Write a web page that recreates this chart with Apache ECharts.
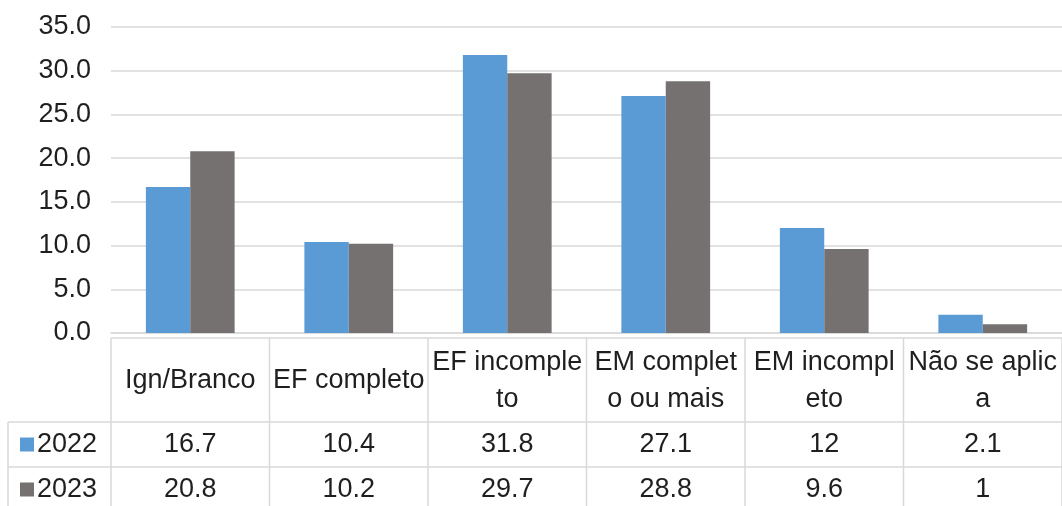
<!doctype html>
<html>
<head>
  <meta charset="utf-8">
  <title>Escolaridade</title>
  <script src="https://cdn.jsdelivr.net/npm/echarts@6/dist/echarts.min.js"></script>
  <style>
    html, body { margin: 0; padding: 0; background: #fff; }
  </style>
</head>
<body>
  <div id="main" style="width:1062px;height:506px;"></div>
  <script>
  var categories = ['Ign/Branco', 'EF completo', 'EF incomple\nto', 'EM complet\no ou mais', 'EM incompl\neto', 'Não se aplic\na'];
  var years = ['2022', '2023'];
  var values2022 = [16.7, 10.4, 31.8, 27.1, 12, 2.1];
  var values2023 = [20.8, 10.2, 29.7, 28.8, 9.6, 1];
  var colors = ['#5b9bd5', '#767171'];

  var font = 'Liberation Sans';
  var textColor = '#1f1f1f';
  var lineColor = '#d9d9d9';

  var chart = echarts.init(document.getElementById('main'));
  chart.setOption({
    animation: false,
    grid: { left: 111, right: 0, top: 27, bottom: 173 },
    xAxis: {
      type: 'category',
      data: categories,
      axisTick: { show: false },
      axisLabel: { show: false },
      axisLine: { lineStyle: { color: lineColor, width: 1.5 } }
    },
    yAxis: {
      type: 'value',
      min: 0,
      max: 35,
      interval: 5,
      axisLine: { show: false },
      axisTick: { show: false },
      axisLabel: {
        fontFamily: font,
        fontSize: 27,
        color: textColor,
        margin: 20,
        formatter: function (v) { return v.toFixed(1); }
      },
      splitLine: { lineStyle: { color: lineColor, width: 1.5 } }
    },
    series: [
      {
        name: years[0],
        type: 'bar',
        data: values2022,
        barGap: '0%',
        barCategoryGap: '44%',
        itemStyle: { color: colors[0] }
      },
      {
        name: years[1],
        type: 'bar',
        data: values2023,
        itemStyle: { color: colors[1] }
      }
    ]
  });

  // data table under the plot, aligned to the category bands
  var c0 = chart.convertToPixel({ xAxisIndex: 0 }, 0);
  var c1 = chart.convertToPixel({ xAxisIndex: 0 }, 1);
  var band = c1 - c0;
  var left = c0 - band / 2;
  var right = left + band * categories.length;
  var base = chart.convertToPixel({ yAxisIndex: 0 }, 0);
  var headTop = base + 5;
  var rowTop = [headTop + 84, headTop + 129];
  var rowH = 45;
  var keyLeft = 8;

  var els = [];
  function line(x1, y1, x2, y2) {
    els.push({ type: 'line', shape: { x1: x1, y1: y1, x2: x2, y2: y2 },
      style: { stroke: lineColor, lineWidth: 1.5 } });
  }
  function text(str, x, y, align) {
    els.push({ type: 'text', x: x, y: y, style: {
      text: str, fill: textColor, font: '27px "' + font + '"',
      align: align || 'center', verticalAlign: 'middle', lineHeight: 37 } });
  }

  line(left, headTop, right, headTop);
  line(keyLeft, rowTop[0], right, rowTop[0]);
  line(keyLeft, rowTop[1], right, rowTop[1]);
  line(keyLeft, rowTop[0], keyLeft, 506);
  for (var i = 0; i <= categories.length; i++) {
    line(left + i * band, headTop, left + i * band, 506);
  }
  for (var i = 0; i < categories.length; i++) {
    var cx = left + (i + 0.5) * band;
    text(categories[i], cx, (headTop + rowTop[0]) / 2 + 1);
    text(String(values2022[i]), cx, rowTop[0] + rowH / 2);
    text(String(values2023[i]), cx, rowTop[1] + rowH / 2);
  }
  for (var r = 0; r < years.length; r++) {
    var cy = rowTop[r] + rowH / 2;
    els.push({ type: 'rect', shape: { x: 20, y: cy - 7, width: 14, height: 14 },
      style: { fill: colors[r] } });
    text(years[r], 37, cy, 'left');
  }
  chart.setOption({ graphic: els });
  </script>
</body>
</html>
